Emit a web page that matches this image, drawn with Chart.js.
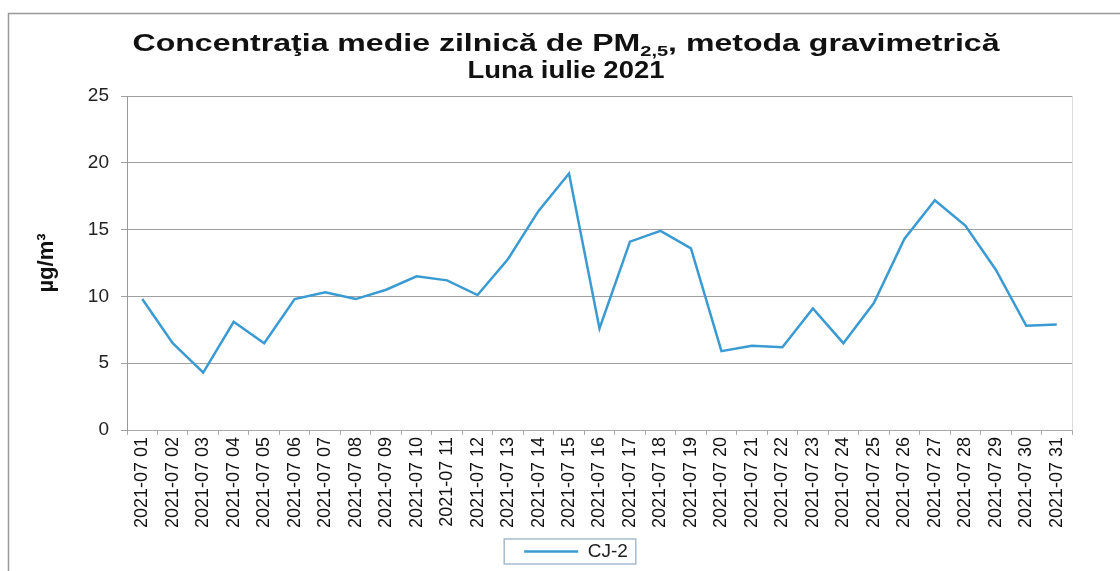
<!DOCTYPE html>
<html>
<head>
<meta charset="utf-8">
<script src="https://cdn.jsdelivr.net/npm/chart.js@4"></script>
<style>
    body { margin: 0; background: #fff; }
</style>
</head>
<body>
<canvas id="graphCanvas" width="1120" height="571"></canvas>
<script>
var days = [];
for (var d = 1; d <= 31; d++) {
    days.push("2021-07 " + (d < 10 ? "0" + d : d));
}

var cj2 = [9.8, 6.5, 4.3, 8.1, 6.5, 9.8, 10.3, 9.8, 10.5, 11.5,
    11.2, 10.1, 12.8, 16.4, 19.2, 7.6, 14.1, 14.9, 13.6, 5.9,
    6.3, 6.2, 9.1, 6.5, 9.5, 14.3, 17.2, 15.3, 12.0, 7.8, 7.9];

var yTicks = [0, 5, 10, 15, 20, 25];

var seriesName = "CJ-2";
var titleA = "Concentraţia medie zilnică de PM";
var titleSub = "2,5";
var titleB = ", metoda gravimetrică";
var titleLine2 = "Luna iulie 2021";

var FONT = '"Liberation Sans", Arial, sans-serif';

// frame, wide title with subscript, box around the legend
var decor = {
    id: "decor",
    afterLayout: function (chart) {
        // the legend in the original sits a bit right of centre
        chart.legend.left += 23;
        chart.legend.right += 23;
    },
    afterDraw: function (chart) {
        var ctx = chart.ctx;
        ctx.save();
        ctx.strokeStyle = "#9a9a9a";
        ctx.lineWidth = 1.5;
        ctx.beginPath();
        ctx.moveTo(8.5, 571);
        ctx.lineTo(8.5, 13.5);
        ctx.lineTo(1120, 13.5);
        ctx.stroke();

        ctx.fillStyle = "#111";
        ctx.textBaseline = "alphabetic";
        var big = "bold 24px " + FONT;
        var small = "bold 15px " + FONT;
        ctx.font = big;
        var wA = ctx.measureText(titleA).width;
        var wB = ctx.measureText(titleB).width;
        ctx.font = small;
        var wS = ctx.measureText(titleSub).width;
        var total = wA + wS + wB;
        var sx = 867 / total;
        ctx.save();
        ctx.translate(566 - 867 / 2, 0);
        ctx.scale(sx, 1);
        ctx.font = big;
        ctx.fillText(titleA, 0, 51);
        ctx.font = small;
        ctx.fillText(titleSub, wA, 56);
        ctx.font = big;
        ctx.fillText(titleB, wA + wS, 51);
        ctx.restore();

        ctx.font = "bold 23px " + FONT;
        var w2 = ctx.measureText(titleLine2).width;
        ctx.save();
        ctx.translate(566 - 197 / 2, 0);
        ctx.scale(197 / w2, 1);
        ctx.fillText(titleLine2, 0, 78);
        ctx.restore();

        var hb = chart.legend.legendHitBoxes[0];
        if (hb) {
            ctx.strokeStyle = "#a8bccd";
            ctx.lineWidth = 1.5;
            ctx.strokeRect(hb.left - 20, hb.top - 3, hb.width + 28, hb.height + 6);
        }

        // plot border on the right
        var a = chart.chartArea;
        ctx.strokeStyle = "#dcdcdc";
        ctx.lineWidth = 1;
        ctx.beginPath();
        ctx.moveTo(Math.round(a.right) + 0.5, a.top);
        ctx.lineTo(Math.round(a.right) + 0.5, a.bottom);
        ctx.stroke();
        ctx.restore();
    }
};

var ctx = document.getElementById("graphCanvas");

var data = {
    labels: days,
    datasets: [
        {
            label: seriesName,
            data: cj2,
            borderColor: "#3a9ad2",
            backgroundColor: "#3a9ad2",
            borderWidth: 2.5,
            pointRadius: 0,
            tension: 0,
        },
    ],
};

var options = {
    responsive: false,
    animation: false,
    layout: {
        padding: { top: 96, left: 34, right: 48, bottom: 0 },
    },
    plugins: {
        title: { display: false },
        tooltip: { enabled: false },
        legend: {
            display: true,
            position: "bottom",
            labels: {
                usePointStyle: true,
                pointStyle: "line",
                pointStyleWidth: 54,
                boxHeight: 2,
                color: "#222",
                font: { family: FONT, size: 19 },
                padding: 6,
            },
        },
    },
    scales: {
        x: {
            offset: true,
            grid: {
                display: true,
                drawOnChartArea: false,
                drawTicks: true,
                tickLength: 5,
                color: "#aaa",
                offset: true,
            },
            border: { color: "#aaa" },
            ticks: {
                autoSkip: false,
                maxRotation: 90,
                minRotation: 90,
                color: "#111",
                padding: 2,
                font: { family: FONT, size: 18 },
            },
            afterFit: function (scale) {
                scale.height = 106;
            },
        },
        y: {
            min: 0,
            max: 25,
            afterBuildTicks: function (scale) {
                scale.ticks = yTicks.map(function (v) { return { value: v }; });
            },
            grid: {
                color: "#a0a0a0",
                lineWidth: 1,
                drawTicks: true,
                tickLength: 6,
            },
            border: { color: "#999" },
            ticks: {
                color: "#222",
                padding: 12,
                font: { family: FONT, size: 19 },
            },
            title: {
                display: true,
                text: "µg/m³",
                color: "#111",
                font: { family: FONT, size: 22, weight: "bold" },
                padding: { top: 0, bottom: 0 },
            },
            afterFit: function (scale) {
                scale.width = 93;
            },
        },
    },
};

var chart1 = new Chart(ctx, {
    type: "line",
    data: data,
    options: options,
    plugins: [decor],
});
</script>
</body>
</html>
